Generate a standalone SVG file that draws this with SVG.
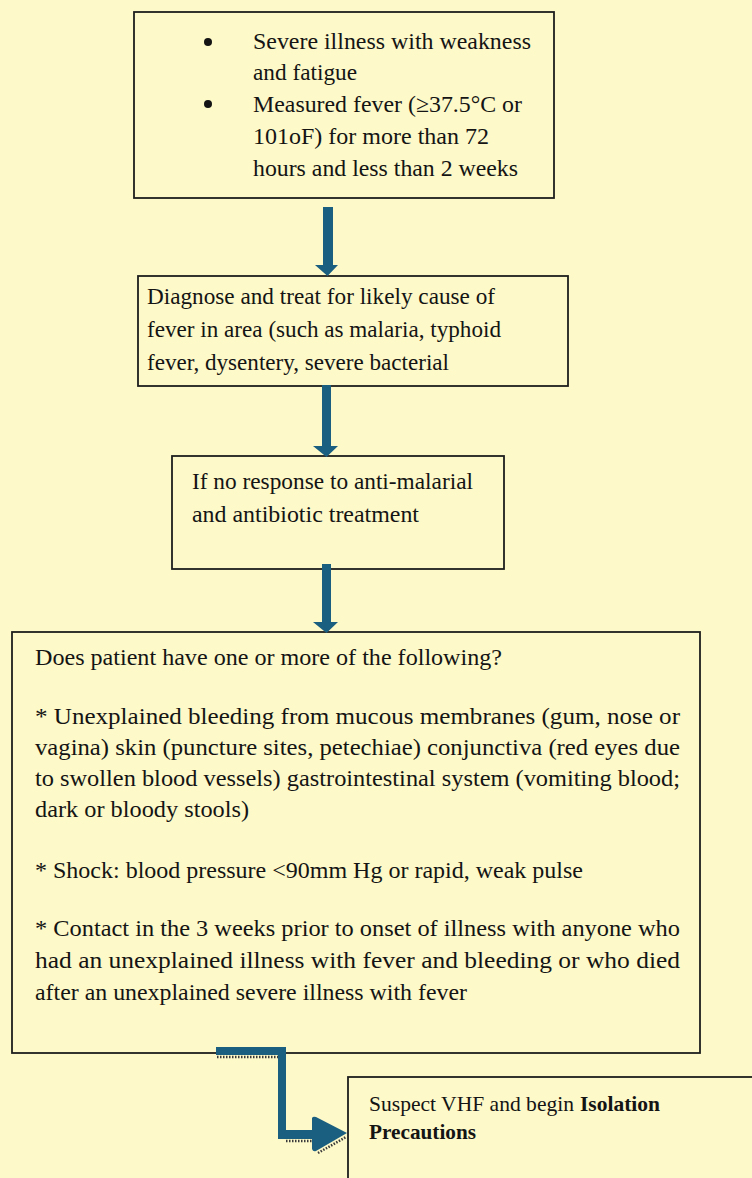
<svg xmlns="http://www.w3.org/2000/svg" width="752" height="1178" viewBox="0 0 752 1178">
<style>
.box{fill:none;stroke:#1e1e1e;stroke-width:1.8}
.t{font-family:"Liberation Serif","Times New Roman",serif;font-size:24px;fill:#141414}
.s{font-family:"Liberation Serif","Times New Roman",serif;font-size:21px;fill:#141414}
.b{font-weight:bold}
.arr{fill:#1b5f80}
.shadow{fill:none;stroke:#3a3a3a;stroke-width:2.5;stroke-dasharray:1.5 1.5}
</style>
<rect x="0" y="0" width="752" height="1178" fill="#fdf9c8"/>
<g id="node-symptoms">
<rect class="box" x="134" y="12" width="420" height="186"/>
<circle cx="208" cy="42" r="4" fill="#141414"/>
<circle cx="208" cy="104" r="4" fill="#141414"/>
<text class="t" x="253" y="49" textLength="278" lengthAdjust="spacingAndGlyphs">Severe illness with weakness</text>
<text class="t" x="253" y="80" textLength="104" lengthAdjust="spacingAndGlyphs">and fatigue</text>
<text class="t" x="253" y="112" textLength="269" lengthAdjust="spacingAndGlyphs">Measured fever (≥37.5°C or</text>
<text class="t" x="253" y="144" textLength="236" lengthAdjust="spacingAndGlyphs">101oF) for more than 72</text>
<text class="t" x="253" y="176" textLength="265" lengthAdjust="spacingAndGlyphs">hours and less than 2 weeks</text>
</g>
<g id="node-diagnose">
<rect class="box" x="138" y="276" width="430" height="110"/>
<text class="t" x="147" y="304" textLength="348" lengthAdjust="spacingAndGlyphs">Diagnose and treat for likely cause of</text>
<text class="t" x="147" y="337" textLength="354" lengthAdjust="spacingAndGlyphs">fever in area (such as malaria, typhoid</text>
<text class="t" x="147" y="370" textLength="302" lengthAdjust="spacingAndGlyphs">fever, dysentery, severe bacterial</text>
</g>
<g id="node-noresponse">
<rect class="box" x="172" y="456" width="332" height="113"/>
<text class="t" x="192" y="489" textLength="281" lengthAdjust="spacingAndGlyphs">If no response to anti-malarial</text>
<text class="t" x="192" y="522" textLength="227" lengthAdjust="spacingAndGlyphs">and antibiotic treatment</text>
</g>
<g id="node-question">
<rect class="box" x="12" y="632" width="688" height="421"/>
<text class="t" x="35" y="665" textLength="467" lengthAdjust="spacingAndGlyphs">Does patient have one or more of the following?</text>
<text class="t" x="35" y="724" textLength="645" lengthAdjust="spacingAndGlyphs">* Unexplained bleeding from mucous membranes (gum, nose or</text>
<text class="t" x="35" y="755" textLength="645" lengthAdjust="spacingAndGlyphs">vagina) skin (puncture sites, petechiae) conjunctiva (red eyes due</text>
<text class="t" x="35" y="786" textLength="645" lengthAdjust="spacingAndGlyphs">to swollen blood vessels) gastrointestinal system (vomiting blood;</text>
<text class="t" x="35" y="817" textLength="214" lengthAdjust="spacingAndGlyphs">dark or bloody stools)</text>
<text class="t" x="35" y="878" textLength="548" lengthAdjust="spacingAndGlyphs">* Shock: blood pressure &lt;90mm Hg or rapid, weak pulse</text>
<text class="t" x="35" y="936" textLength="645" lengthAdjust="spacingAndGlyphs">* Contact in the 3 weeks prior to onset of illness with anyone who</text>
<text class="t" x="35" y="968" textLength="645" lengthAdjust="spacingAndGlyphs">had an unexplained illness with fever and bleeding or who died</text>
<text class="t" x="35" y="1000" textLength="432" lengthAdjust="spacingAndGlyphs">after an unexplained severe illness with fever</text>
</g>
<g id="node-isolation">
<rect class="box" x="348" y="1077" width="420" height="120"/>
<text class="s" x="369" y="1111" textLength="205" lengthAdjust="spacingAndGlyphs">Suspect VHF and begin</text>
<text class="s b" x="580" y="1111" textLength="80" lengthAdjust="spacingAndGlyphs">Isolation</text>
<text class="s b" x="369" y="1139" textLength="107" lengthAdjust="spacingAndGlyphs">Precautions</text>
</g>
<g id="connectors">
<path class="arr" d="M323,207 H333 V265 H338 L327.5,276 L315,265 H323 Z"/>
<path class="arr" d="M322,385 H331 V446 H338 L326.5,457 L313,446 H322 Z"/>
<path class="arr" d="M322,564 H331 V622 H338 L326.5,633 L313,622 H322 Z"/>
<path class="shadow" d="M217,1057 H278 M286,1141 H312 M318,1153 L346,1137"/>
<path class="arr" d="M216,1047 H286 V1130 H312 V1118 Q313,1116 316,1117 L347,1133 L316,1151 Q313,1152 312,1149 V1139 H278 V1055 H216 Z"/>
</g>
</svg>
